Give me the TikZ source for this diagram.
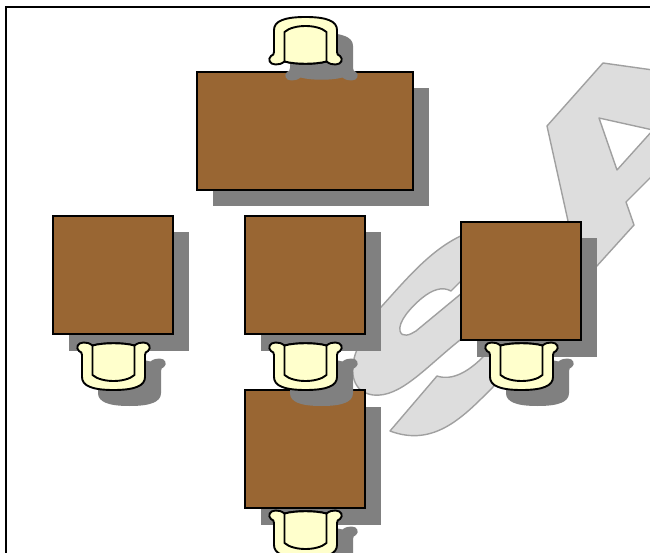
\documentclass[tikz,border=0pt]{standalone}
\usetikzlibrary{shadows}
\definecolor{tabletop}{HTML}{996633}
\definecolor{seatcream}{HTML}{FFFFCC}
\definecolor{shadegray}{HTML}{808080}
\definecolor{markfill}{HTML}{DDDDDD}
\definecolor{markline}{HTML}{A0A0A0}
\newcommand{\chairoutline}{(-21,2.5) .. controls (-24,0) and (-27,-0.5) .. (-30,-0.5)
  .. controls (-36,-0.5) and (-38,5) .. (-34.5,8) .. controls (-32.5,9.5) and (-31.5,9) .. (-31.5,12)
  -- (-31.5,34) .. controls (-31.5,43) and (-21,47) .. (0,47)
  .. controls (21,47) and (31.5,43) .. (31.5,34) -- (31.5,12)
  .. controls (31.5,9) and (32.5,9.5) .. (34.5,8) .. controls (38,5) and (36,-0.5) .. (30,-0.5)
  .. controls (27,-0.5) and (24,0) .. (21,2.5) .. controls (10,-0.5) and (-10,-0.5) .. (-21,2.5) -- cycle}
\tikzset{
  tablebox/.style={draw=black,line width=1.6pt,fill=tabletop,inner sep=0pt,
    drop shadow={shadow xshift=16pt,shadow yshift=-16.5pt,opacity=1,fill=shadegray}},
  watermark/.style={draw=markline,line width=1.4pt,fill=markfill,line join=round},
  markhole/.style={draw=markline,line width=1.4pt,fill=white,line join=round},
  chairline/.style={draw=black,line width=1.9pt,fill=seatcream,line join=round},
  chairshade/.pic={\fill[shadegray] \chairoutline;},
  chairbody/.pic={
    \path[chairline] \chairoutline;
    \path[chairline] (-21,2.5) .. controls (-10,-0.5) and (10,-0.5) .. (21,2.5) -- (21,32)
      .. controls (12,40) and (-12,40) .. (-21,32) -- cycle;
  }
}
\newcommand{\placechair}[3]{
  \pic[rotate=#3] at (#1+16,#2+16) {chairshade};
  \pic[rotate=#3] at (#1,#2) {chairbody};
}
\begin{document}
\begin{tikzpicture}[x=1pt,y=-1pt]
  \useasboundingbox (0,0) rectangle (650,553);
  \clip (0,0) rectangle (650,553);
  \fill[white] (0,0) rectangle (650,553);
  \draw[line width=1.5pt] (6,560) -- (6,7) -- (660,7);

  % letters behind the furniture
  \path[watermark] (603,63) -- (660,71) -- (660,168) -- (626,202) -- (634,225) -- (596,267)
    -- (493,387) .. controls (465,415) and (435,448) .. (390,431) -- (437,376)
    .. controls (452,381) and (468,372) .. (483,357) -- (495,335) -- (465,335)
    -- (460,340) .. controls (425,368) and (400,398) .. (373,395)
    .. controls (352,392) and (350,372) .. (355,355) .. controls (362,335) and (372,316) .. (382,306)
    .. controls (410,275) and (435,245) .. (470,232) -- (570,230) -- (547,126) -- cycle;
  \path[markhole] (599,118) -- (653,130) -- (617,170) -- cycle;
  \path[markhole] (468,274) -- (451,291) .. controls (442,286) and (432,290) .. (422,298)
    .. controls (410,308) and (398,322) .. (400,331) .. controls (402,338) and (410,335) .. (416,331)
    -- (468,288) -- cycle;

  \node[tablebox,minimum width=216pt,minimum height=118pt] (longtable) at (305,131) {};
  \node[tablebox,minimum width=120pt,minimum height=118pt] (lefttable) at (113,275) {};
  \node[tablebox,minimum width=120pt,minimum height=118pt] (midtable) at (305,275) {};
  \node[tablebox,minimum width=120pt,minimum height=118pt] (righttable) at (521,281) {};
  \node[tablebox,minimum width=120pt,minimum height=118pt] (lowtable) at (305,449) {};

  \placechair{305.5}{64}{180}
  \placechair{113.5}{343}{0}
  \placechair{305.5}{343}{0}
  \placechair{521.5}{343}{0}
  \placechair{305.5}{511}{0}
\end{tikzpicture}
\end{document}
